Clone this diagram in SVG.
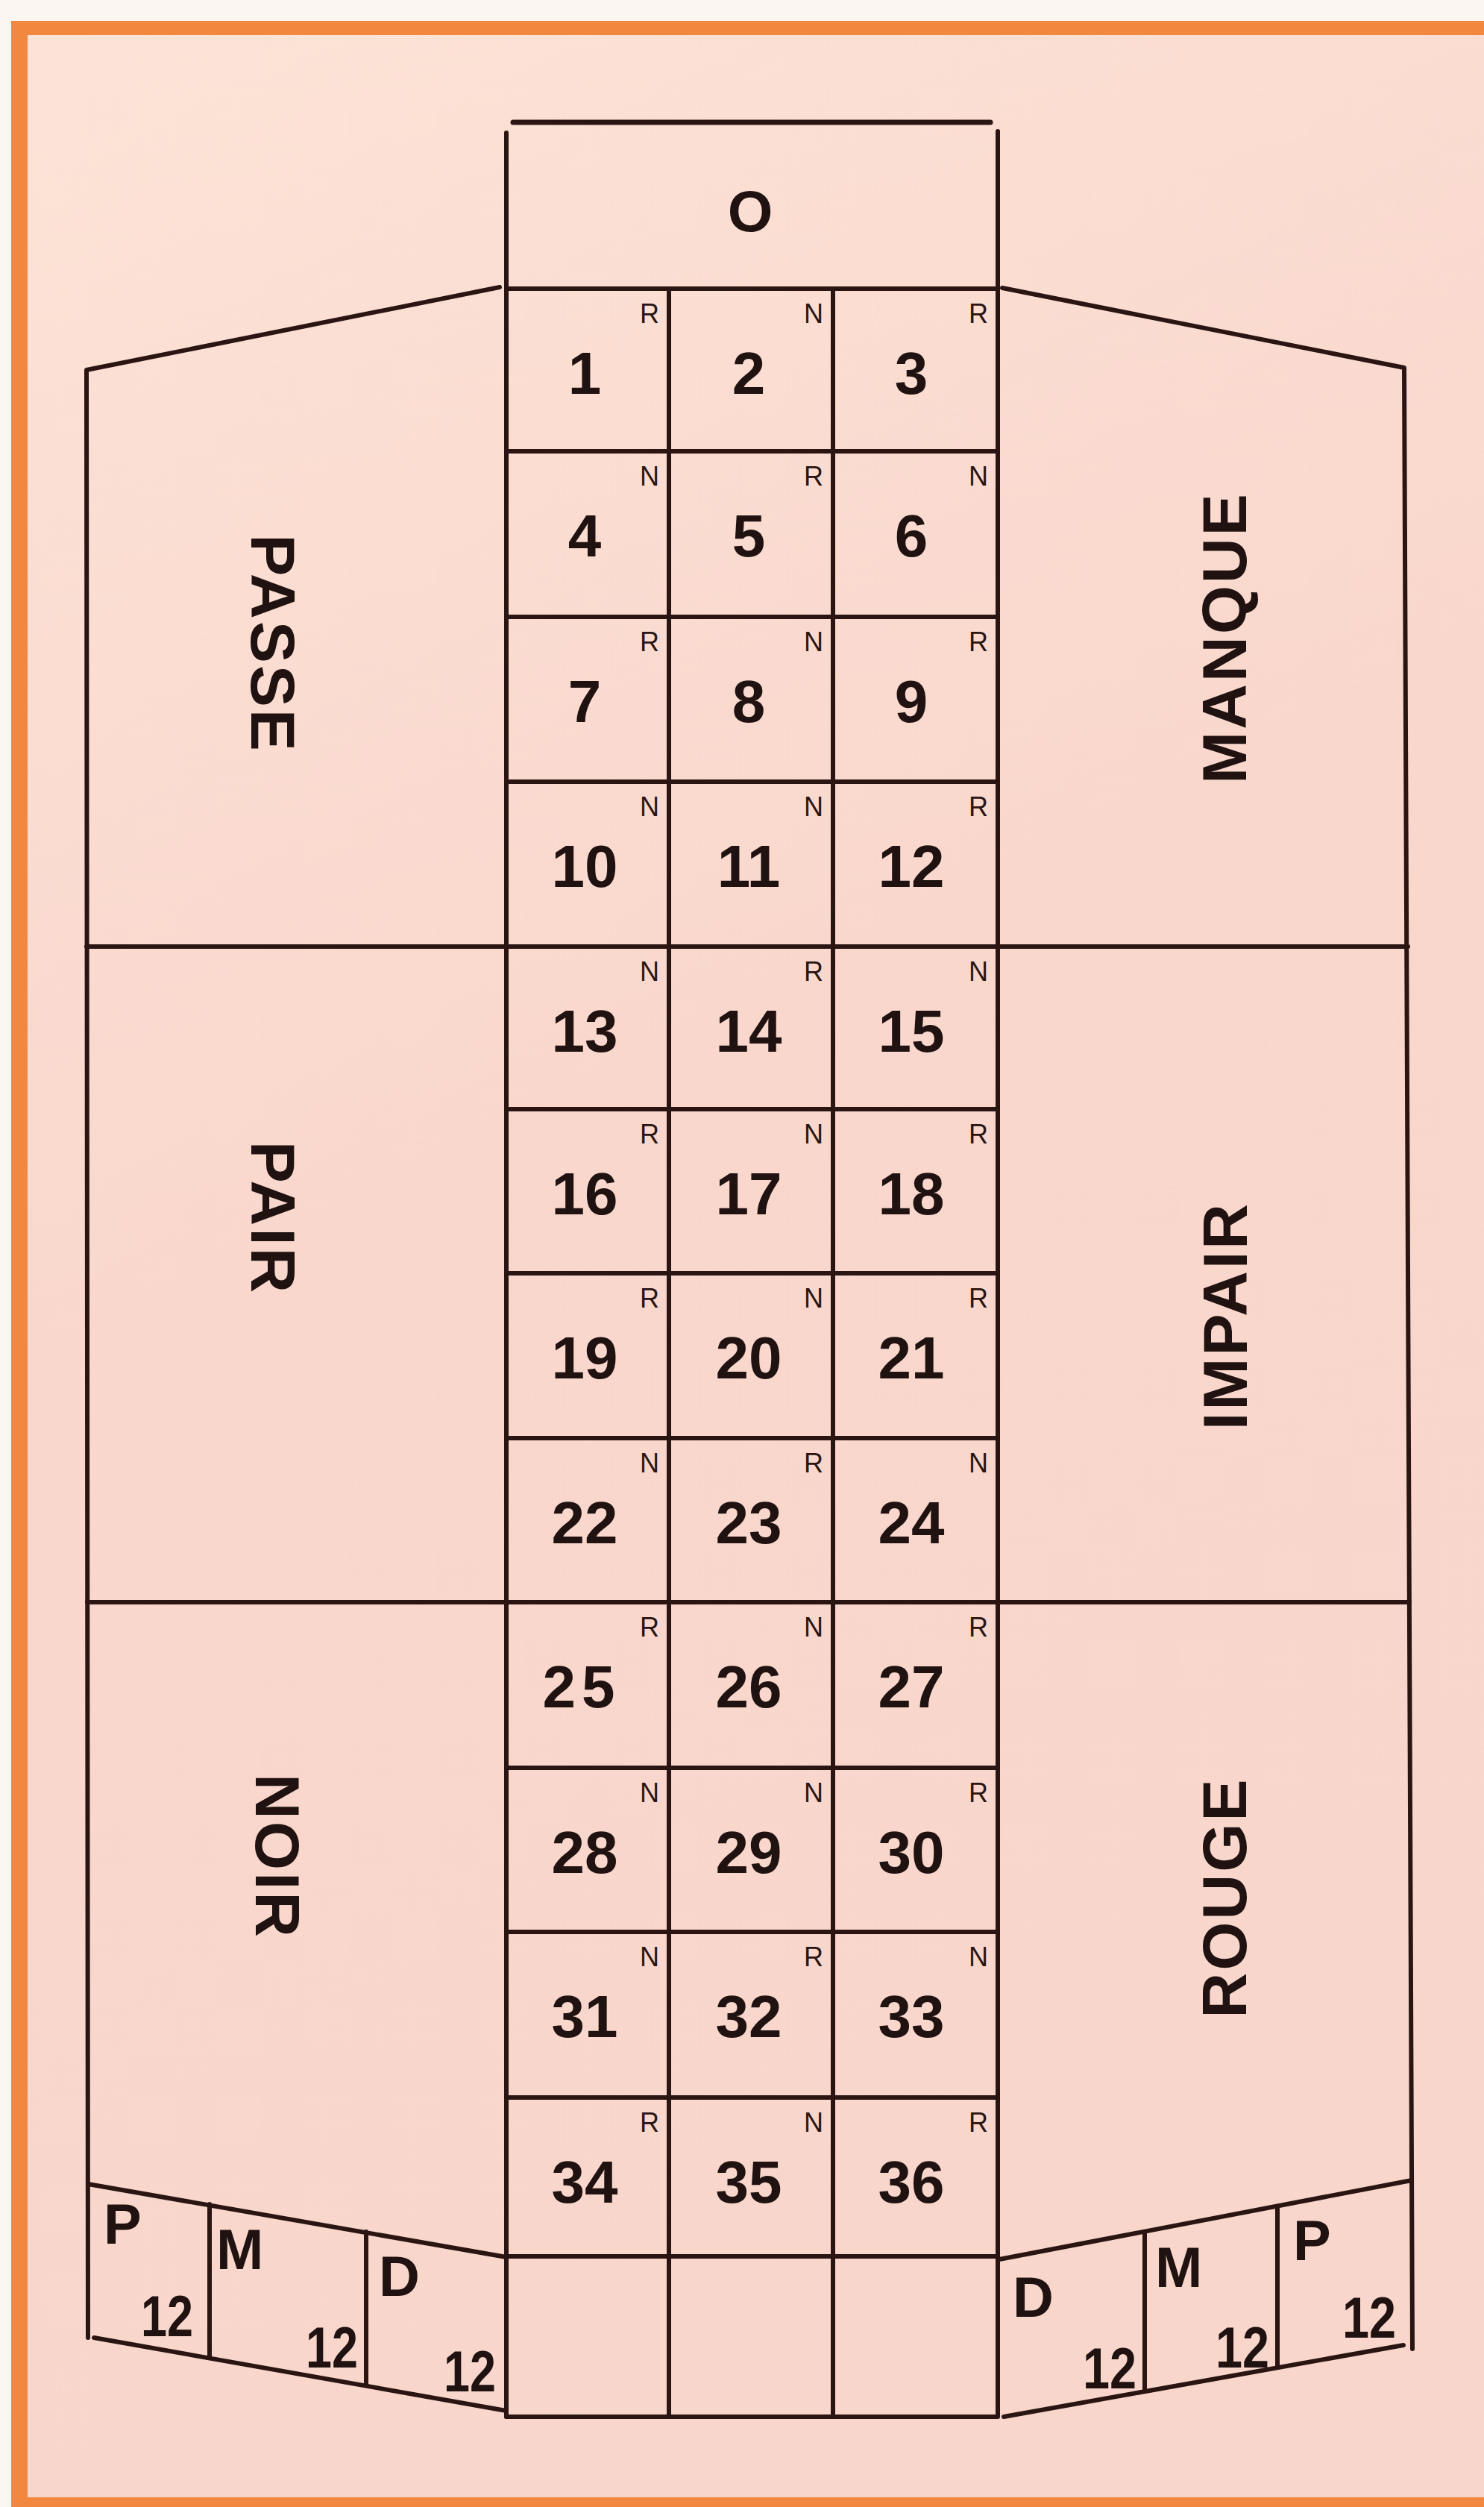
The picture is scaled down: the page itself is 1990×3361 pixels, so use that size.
<svg xmlns="http://www.w3.org/2000/svg" width="1990" height="3361" viewBox="0 0 1990 3361">
<defs>
<linearGradient id="paper" x1="0" y1="0" x2="0.3" y2="1">
<stop offset="0" stop-color="#fde3d7"/>
<stop offset="0.5" stop-color="#f9d7cd"/>
<stop offset="1" stop-color="#f8d6cb"/>
</linearGradient>
<style>
.ln{stroke:#2a1512;stroke-width:6;fill:none;stroke-linecap:round;stroke-linejoin:round}
.num{font-family:"Liberation Sans",Arial,sans-serif;font-weight:bold;font-size:80px;fill:#1f1210;text-anchor:middle}
.rn{font-family:"Liberation Sans",Arial,sans-serif;font-size:36px;fill:#2a1512;text-anchor:end}
.big{font-family:"Liberation Sans",Arial,sans-serif;font-weight:bold;font-size:84px;letter-spacing:3px;fill:#1f1210;text-anchor:middle}
.pmd{font-family:"Liberation Sans",Arial,sans-serif;font-weight:bold;font-size:76px;fill:#1f1210}
.tw{font-family:"Liberation Sans",Arial,sans-serif;font-weight:bold;font-size:78px;fill:#1f1210}
</style>
</defs>
<rect x="0" y="0" width="1990" height="3361" fill="#fcf6f3"/>
<rect x="26" y="37" width="1964" height="3318" fill="url(#paper)"/>
<rect x="15" y="28" width="1975" height="19" fill="#f2873f"/>
<rect x="15" y="28" width="22" height="3333" fill="#f2873f"/>
<rect x="15" y="3348" width="1975" height="13" fill="#f2873f"/>

<g id="connectors">
<path class="ln" d="M688,164 H1328" style="stroke-width:7"/>
<path class="ln" d="M679,178 V3240 M1338,176 V3240 M897,387 V3240 M1117,387 V3240"/>
<path class="ln" d="M679,387 H1338 M679,605 H1338 M679,827 H1338 M679,1048 H1338 M679,1269 H1338 M679,1487 H1338 M679,1707 H1338 M679,1928 H1338 M679,2148 H1338 M679,2370 H1338 M679,2590 H1338 M679,2812 H1338 M679,3025 H1338 M679,3240 H1336"/>
<path class="ln" d="M670,385 L116,496 L118,3134"/>
<path class="ln" d="M1344,386 L1883,493 L1894,3149"/>
<path class="ln" d="M116,1269 H679 M117,2148 H679 M1338,1269 H1888 M1338,2148 H1890"/>
<path class="ln" d="M118,2928 L679,3026 M126,3134 L679,3232 M281,2955 V3161 M491,2992 V3197"/>
<path class="ln" d="M1340,3029 L1893,2923 M1346,3240 L1882,3144 M1535,2993 V3205 M1713,2959 V3172"/>
</g>

<g id="zero"><text class="num" x="1006" y="310" style="font-size:78px">O</text></g>

<g id="passe"><text class="big" transform="translate(337,863) rotate(90)">PASSE</text></g>
<g id="pair"><text class="big" transform="translate(337,1633) rotate(90)">PAIR</text></g>
<g id="noir"><text class="big" transform="translate(343,2489) rotate(90)">NOIR</text></g>
<g id="manque"><text class="big" transform="translate(1671,855) rotate(-90)">MANQUE</text></g>
<g id="impair"><text class="big" transform="translate(1672,1764) rotate(-90)">IMPAIR</text></g>
<g id="rouge"><text class="big" transform="translate(1671,2544) rotate(-90)">ROUGE</text></g>

<g id="c1"><text class="num" x="784" y="528">1</text><text class="rn" x="884" y="433">R</text></g>
<g id="c2"><text class="num" x="1004" y="528">2</text><text class="rn" x="1104" y="433">N</text></g>
<g id="c3"><text class="num" x="1222" y="528">3</text><text class="rn" x="1325" y="433">R</text></g>
<g id="c4"><text class="num" x="784" y="746">4</text><text class="rn" x="884" y="651">N</text></g>
<g id="c5"><text class="num" x="1004" y="746">5</text><text class="rn" x="1104" y="651">R</text></g>
<g id="c6"><text class="num" x="1222" y="746">6</text><text class="rn" x="1325" y="651">N</text></g>
<g id="c7"><text class="num" x="784" y="968">7</text><text class="rn" x="884" y="873">R</text></g>
<g id="c8"><text class="num" x="1004" y="968">8</text><text class="rn" x="1104" y="873">N</text></g>
<g id="c9"><text class="num" x="1222" y="968">9</text><text class="rn" x="1325" y="873">R</text></g>
<g id="c10"><text class="num" x="784" y="1189">10</text><text class="rn" x="884" y="1094">N</text></g>
<g id="c11"><text class="num" x="1004" y="1189">11</text><text class="rn" x="1104" y="1094">N</text></g>
<g id="c12"><text class="num" x="1222" y="1189">12</text><text class="rn" x="1325" y="1094">R</text></g>
<g id="c13"><text class="num" x="784" y="1410">13</text><text class="rn" x="884" y="1315">N</text></g>
<g id="c14"><text class="num" x="1004" y="1410">14</text><text class="rn" x="1104" y="1315">R</text></g>
<g id="c15"><text class="num" x="1222" y="1410">15</text><text class="rn" x="1325" y="1315">N</text></g>
<g id="c16"><text class="num" x="784" y="1628">16</text><text class="rn" x="884" y="1533">R</text></g>
<g id="c17"><text class="num" x="1004" y="1628">17</text><text class="rn" x="1104" y="1533">N</text></g>
<g id="c18"><text class="num" x="1222" y="1628">18</text><text class="rn" x="1325" y="1533">R</text></g>
<g id="c19"><text class="num" x="784" y="1848">19</text><text class="rn" x="884" y="1753">R</text></g>
<g id="c20"><text class="num" x="1004" y="1848">20</text><text class="rn" x="1104" y="1753">N</text></g>
<g id="c21"><text class="num" x="1222" y="1848">21</text><text class="rn" x="1325" y="1753">R</text></g>
<g id="c22"><text class="num" x="784" y="2069">22</text><text class="rn" x="884" y="1974">N</text></g>
<g id="c23"><text class="num" x="1004" y="2069">23</text><text class="rn" x="1104" y="1974">R</text></g>
<g id="c24"><text class="num" x="1222" y="2069">24</text><text class="rn" x="1325" y="1974">N</text></g>
<g id="c25"><text class="num" x="780" y="2289" style="letter-spacing:8px">25</text><text class="rn" x="884" y="2194">R</text></g>
<g id="c26"><text class="num" x="1004" y="2289">26</text><text class="rn" x="1104" y="2194">N</text></g>
<g id="c27"><text class="num" x="1222" y="2289">27</text><text class="rn" x="1325" y="2194">R</text></g>
<g id="c28"><text class="num" x="784" y="2511">28</text><text class="rn" x="884" y="2416">N</text></g>
<g id="c29"><text class="num" x="1004" y="2511">29</text><text class="rn" x="1104" y="2416">N</text></g>
<g id="c30"><text class="num" x="1222" y="2511">30</text><text class="rn" x="1325" y="2416">R</text></g>
<g id="c31"><text class="num" x="784" y="2731">31</text><text class="rn" x="884" y="2636">N</text></g>
<g id="c32"><text class="num" x="1004" y="2731">32</text><text class="rn" x="1104" y="2636">R</text></g>
<g id="c33"><text class="num" x="1222" y="2731">33</text><text class="rn" x="1325" y="2636">N</text></g>
<g id="c34"><text class="num" x="784" y="2953">34</text><text class="rn" x="884" y="2858">R</text></g>
<g id="c35"><text class="num" x="1004" y="2953">35</text><text class="rn" x="1104" y="2858">N</text></g>
<g id="c36"><text class="num" x="1222" y="2953">36</text><text class="rn" x="1325" y="2858">R</text></g>

<g id="left-p"><text class="pmd" x="139" y="3008">P</text><text class="tw" x="189" y="3132" textLength="70" lengthAdjust="spacingAndGlyphs">12</text></g>
<g id="left-m"><text class="pmd" x="290" y="3042">M</text><text class="tw" x="410" y="3174" textLength="70" lengthAdjust="spacingAndGlyphs">12</text></g>
<g id="left-d"><text class="pmd" x="508" y="3078">D</text><text class="tw" x="595" y="3206" textLength="70" lengthAdjust="spacingAndGlyphs">12</text></g>
<g id="right-d"><text class="pmd" x="1358" y="3106">D</text><text class="tw" x="1452" y="3202" textLength="72" lengthAdjust="spacingAndGlyphs">12</text></g>
<g id="right-m"><text class="pmd" x="1549" y="3066">M</text><text class="tw" x="1630" y="3174" textLength="72" lengthAdjust="spacingAndGlyphs">12</text></g>
<g id="right-p"><text class="pmd" x="1734" y="3030">P</text><text class="tw" x="1800" y="3134" textLength="72" lengthAdjust="spacingAndGlyphs">12</text></g>
</svg>
